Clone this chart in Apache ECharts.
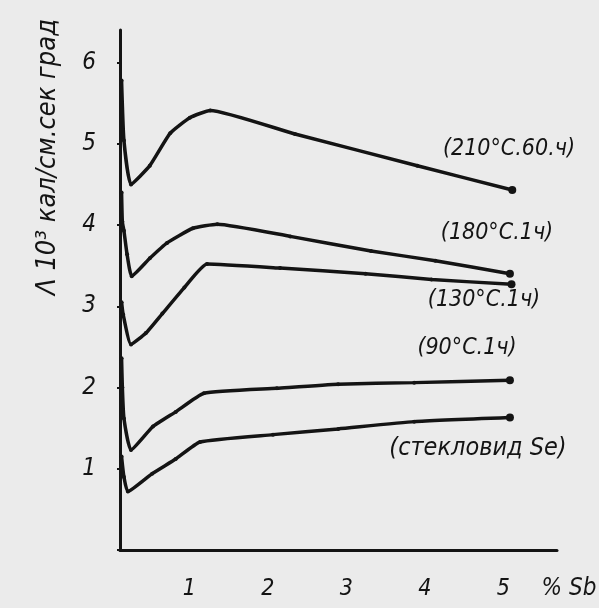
<!DOCTYPE html>
<html><head><meta charset="utf-8">
<script src="https://cdn.jsdelivr.net/npm/echarts@6/dist/echarts.min.js"></script>
<style>html,body{margin:0;padding:0;background:#ebebeb;}#c{width:599px;height:608px;}</style>
</head><body><div id="c"></div>
<script>
// Data (x: % Sb, y: Λ·10³ кал/см.сек.град)
const x210 = [0.02, 0.05, 0.14, 0.38, 0.64, 0.89, 1.15, 2.23, 3.79, 5.0];
const y210 = [5.78, 5.04, 4.50, 4.73, 5.13, 5.32, 5.41, 5.12, 4.73, 4.43];
const x180 = [0.02, 0.03, 0.05, 0.09, 0.15, 0.38, 0.60, 0.93, 1.24, 2.17, 3.20, 4.02, 4.97];
const y180 = [4.40, 4.04, 3.93, 3.64, 3.37, 3.59, 3.78, 3.96, 4.01, 3.86, 3.68, 3.56, 3.40];
const x130 = [0.02, 0.04, 0.14, 0.33, 0.54, 0.82, 1.11, 2.04, 3.13, 3.97, 4.99];
const y130 = [3.05, 2.90, 2.53, 2.67, 2.91, 3.23, 3.52, 3.47, 3.40, 3.33, 3.27];
const x90 = [0.02, 0.03, 0.05, 0.14, 0.42, 0.71, 1.07, 2.00, 2.78, 3.75, 4.97];
const y90 = [2.36, 2.00, 1.62, 1.23, 1.52, 1.70, 1.93, 1.99, 2.04, 2.06, 2.09];
const xGlass = [0.02, 0.05, 0.10, 0.41, 0.71, 1.02, 1.95, 2.78, 3.75, 4.97];
const yGlass = [1.15, 0.90, 0.72, 0.94, 1.12, 1.33, 1.42, 1.49, 1.58, 1.63];
const seriesNames = ['(210°C.60.ч)', '(180°C.1ч)', '(130°C.1ч)', '(90°C.1ч)', '(стекловид Se)'];
const xTicks = [1, 2, 3, 4, 5];
const yTicks = [1, 2, 3, 4, 5, 6];
const yTitle = 'Λ 10³ кал/см.сек град';
const xTitle = '% Sb';

const FONT = "'DejaVu Sans Condensed', 'DejaVu Sans', sans-serif";
const INK = '#141414';
function pairs(xs, ys) { return xs.map((x, i) => [x, ys[i]]); }
const all = [[x210, y210], [x180, y180], [x130, y130], [x90, y90], [xGlass, yGlass]];
const chart = echarts.init(document.getElementById('c'));
chart.setOption({
  backgroundColor: '#ebebeb',
  animation: false,
  grid: { left: 120, right: 42, top: 30, bottom: 58 },
  xAxis: {
    type: 'value', min: 0, max: 5.57, interval: 1,
    axisLine: { lineStyle: { color: INK, width: 3 } },
    axisTick: { show: false },
    splitLine: { show: false },
    axisLabel: {
      margin: 28, padding: [0, 18, 0, 0],
      fontFamily: FONT, fontStyle: 'italic', fontSize: 23, color: INK,
      formatter: v => xTicks.includes(v) ? String(v) : '',
      showMaxLabel: false
    }
  },
  yAxis: {
    type: 'value', min: 0, max: 6.4, interval: 1,
    axisLine: { lineStyle: { color: INK, width: 3 } },
    axisTick: { show: true, length: 3, lineStyle: { color: INK, width: 2 } },
    splitLine: { show: false },
    axisLabel: {
      margin: 24,
      fontFamily: FONT, fontStyle: 'italic', fontSize: 24, color: INK,
      formatter: v => yTicks.includes(v) ? String(v) : '',
      showMaxLabel: false
    }
  },
  series: all.map((p, k) => ({
    type: 'line', name: seriesNames[k],
    data: pairs(p[0], p[1]),
    smooth: 0.15,
    symbol: 'circle',
    symbolSize: (v, params) => params.dataIndex === p[0].length - 1 ? 8 : 4,
    itemStyle: { color: INK },
    lineStyle: { color: INK, width: 3.5 }
  })),
  graphic: [
    { type: 'text', x: 509, y: 149, style: { text: seriesNames[0], font: "italic 23px " + FONT, fill: INK, align: 'center', verticalAlign: 'middle' } },
    { type: 'text', x: 497, y: 233, style: { text: seriesNames[1], font: "italic 23px " + FONT, fill: INK, align: 'center', verticalAlign: 'middle' } },
    { type: 'text', x: 484, y: 300, style: { text: seriesNames[2], font: "italic 23px " + FONT, fill: INK, align: 'center', verticalAlign: 'middle' } },
    { type: 'text', x: 467, y: 348, style: { text: seriesNames[3], font: "italic 23px " + FONT, fill: INK, align: 'center', verticalAlign: 'middle' } },
    { type: 'text', x: 478, y: 448, style: { text: seriesNames[4], font: "italic 25px " + FONT, fill: INK, align: 'center', verticalAlign: 'middle' } },
    { type: 'text', x: 569, y: 589, style: { text: xTitle, font: "italic 24px " + FONT, fill: INK, align: 'center', verticalAlign: 'middle' } },
    { type: 'text', x: 48, y: 157, rotation: Math.PI / 2, style: { text: yTitle, font: "italic 27px " + FONT, fill: INK, align: 'center', verticalAlign: 'middle' } }
  ]
});
</script></body></html>
